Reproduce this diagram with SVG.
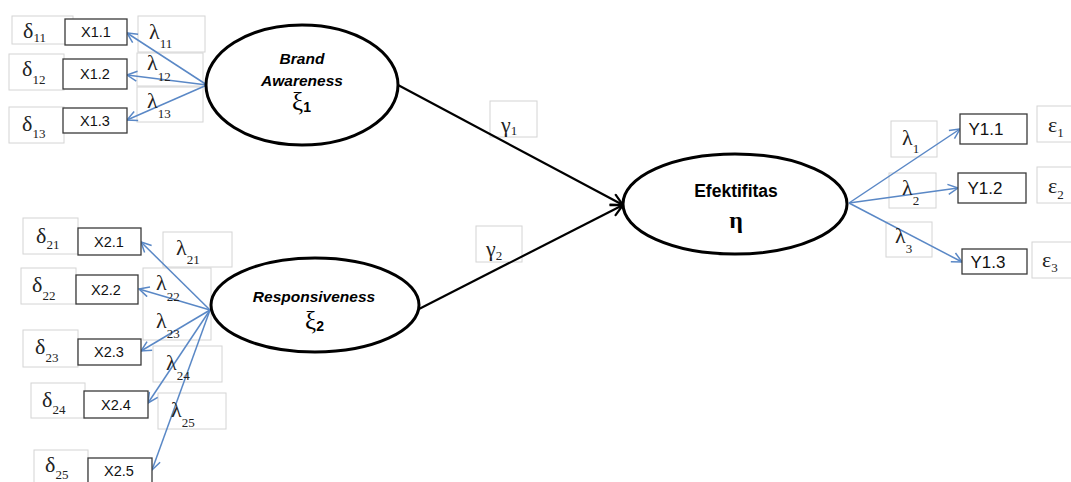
<svg xmlns="http://www.w3.org/2000/svg" width="1071" height="482" viewBox="0 0 1071 482">
<style>
.lb{fill:#fff;stroke:#d4d4d4;stroke-width:1}
.ind{fill:#fff;stroke:#3a3a3a;stroke-width:1.3}
.lat{fill:#fff;stroke:#000;stroke-width:3}
.gk{font-family:"Liberation Serif","DejaVu Serif",serif;font-size:22px;fill:#222}
.sub{font-size:13px}
.it{font-family:"Liberation Sans","DejaVu Sans",sans-serif;font-size:14.5px;fill:#111;text-anchor:middle}
.yt{font-size:17px}
.ln{font-family:"Liberation Sans","DejaVu Sans",sans-serif;font-size:15.5px;font-weight:bold;fill:#000;text-anchor:middle}
.big{font-size:17.5px}
.bl{stroke:#5a88c6;stroke-width:1.5;fill:none;marker-end:url(#ab)}
.bk{stroke:#000;stroke-width:2.2;fill:none;marker-end:url(#ak)}
</style>
<defs>
<marker id="ab" viewBox="0 0 12 12" refX="11" refY="6" markerWidth="12" markerHeight="12" markerUnits="userSpaceOnUse" orient="auto">
<path d="M1,1 L11,6 L1,11" fill="none" stroke="#5a88c6" stroke-width="1.5"/>
</marker>
<marker id="ak" viewBox="0 0 14 14" refX="13" refY="7" markerWidth="14" markerHeight="14" markerUnits="userSpaceOnUse" orient="auto">
<path d="M1,1 L13,7 L1,13" fill="none" stroke="#000" stroke-width="2.2"/>
</marker>
</defs>
<rect width="1071" height="482" fill="#fff"/>

<g id="labels">
<rect class="lb" x="138" y="16" width="67" height="36"/>
<rect class="lb" x="137" y="53" width="66" height="33"/>
<rect class="lb" x="137" y="87" width="66" height="35"/>
<rect class="lb" x="12" y="16" width="61" height="28"/>
<rect class="lb" x="9" y="54" width="55" height="36"/>
<rect class="lb" x="9" y="107" width="55" height="36"/>
<rect class="lb" x="163" y="232" width="69" height="35"/>
<rect class="lb" x="143" y="268" width="68" height="72"/>
<rect class="lb" x="153" y="346" width="69" height="36"/>
<rect class="lb" x="158" y="393" width="68" height="36"/>
<rect class="lb" x="23" y="218" width="55" height="36"/>
<rect class="lb" x="21" y="268" width="55" height="36"/>
<rect class="lb" x="23" y="330" width="55" height="37"/>
<rect class="lb" x="31" y="383" width="54" height="35"/>
<rect class="lb" x="34" y="450" width="54" height="40"/>
<rect class="lb" x="490" y="101" width="47" height="36"/>
<rect class="lb" x="476" y="226" width="46" height="36"/>
<rect class="lb" x="891" y="121" width="46" height="36"/>
<rect class="lb" x="889" y="173" width="47" height="35"/>
<rect class="lb" x="886" y="222" width="46" height="35"/>
<rect class="lb" x="1037" y="106" width="40" height="36"/>
<rect class="lb" x="1037" y="167" width="40" height="36"/>
<rect class="lb" x="1032" y="242" width="45" height="36"/>
</g>

<g id="connectors">
<line class="bl" x1="207" y1="85" x2="127" y2="33"/>
<line class="bl" x1="207" y1="85" x2="127" y2="75"/>
<line class="bl" x1="207" y1="85" x2="127" y2="120"/>
<line class="bl" x1="210" y1="310" x2="141" y2="242"/>
<line class="bl" x1="210" y1="310" x2="139" y2="289"/>
<line class="bl" x1="210" y1="310" x2="141" y2="351"/>
<line class="bl" x1="210" y1="310" x2="148" y2="403"/>
<line class="bl" x1="210" y1="310" x2="152" y2="470"/>
<line class="bl" x1="849" y1="203" x2="960" y2="129"/>
<line class="bl" x1="849" y1="203" x2="958" y2="188"/>
<line class="bl" x1="849" y1="203" x2="962" y2="262"/>
<line class="bk" x1="398" y1="85" x2="623" y2="205"/>
<line class="bk" x1="419" y1="309" x2="623" y2="205"/>
</g>

<g id="label-text" class="gk">
<text x="149" y="39">λ<tspan class="sub" dy="9">11</tspan></text>
<text x="147" y="70">λ<tspan class="sub" dy="11">12</tspan></text>
<text x="147" y="108">λ<tspan class="sub" dy="10">13</tspan></text>
<text x="23" y="38">δ<tspan class="sub" dy="4">11</tspan></text>
<text x="22" y="76">δ<tspan class="sub" dy="8">12</tspan></text>
<text x="22" y="131">δ<tspan class="sub" dy="7">13</tspan></text>
<text x="176" y="255">λ<tspan class="sub" dy="9">21</tspan></text>
<text x="156" y="290">λ<tspan class="sub" dy="11">22</tspan></text>
<text x="156" y="328">λ<tspan class="sub" dy="10">23</tspan></text>
<text x="166" y="370">λ<tspan class="sub" dy="10">24</tspan></text>
<text x="171" y="417">λ<tspan class="sub" dy="10">25</tspan></text>
<text x="36" y="243">δ<tspan class="sub" dy="6">21</tspan></text>
<text x="32" y="292">δ<tspan class="sub" dy="8">22</tspan></text>
<text x="35" y="354">δ<tspan class="sub" dy="8">23</tspan></text>
<text x="42" y="407">δ<tspan class="sub" dy="7">24</tspan></text>
<text x="45" y="472">δ<tspan class="sub" dy="7">25</tspan></text>
<text x="501" y="132">γ<tspan class="sub" dy="3">1</tspan></text>
<text x="486" y="256">γ<tspan class="sub" dy="4">2</tspan></text>
<text x="902" y="145">λ<tspan class="sub" dy="8">1</tspan></text>
<text x="902" y="195">λ<tspan class="sub" dy="10">2</tspan></text>
<text x="895" y="243">λ<tspan class="sub" dy="10">3</tspan></text>
<text x="1048" y="132">ε<tspan class="sub" dy="5">1</tspan></text>
<text x="1048" y="193">ε<tspan class="sub" dy="6">2</tspan></text>
<text x="1042" y="267">ε<tspan class="sub" dy="5">3</tspan></text>
</g>

<g id="X1.1"><rect class="ind" x="65" y="19" width="62" height="26"/><text class="it" x="96" y="37">X1.1</text></g>
<g id="X1.2"><rect class="ind" x="63" y="59" width="64" height="30"/><text class="it" x="95" y="79">X1.2</text></g>
<g id="X1.3"><rect class="ind" x="63" y="108" width="64" height="25"/><text class="it" x="95" y="126">X1.3</text></g>
<g id="X2.1"><rect class="ind" x="78" y="228" width="63" height="27"/><text class="it" x="109" y="247">X2.1</text></g>
<g id="X2.2"><rect class="ind" x="76" y="275" width="62" height="29"/><text class="it" x="106" y="295">X2.2</text></g>
<g id="X2.3"><rect class="ind" x="78" y="339" width="63" height="26"/><text class="it" x="109" y="357">X2.3</text></g>
<g id="X2.4"><rect class="ind" x="84" y="391" width="64" height="27"/><text class="it" x="116" y="410">X2.4</text></g>
<g id="X2.5"><rect class="ind" x="88" y="458" width="64" height="30"/><text class="it" x="119" y="476">X2.5</text></g>
<g id="Y1.1"><rect class="ind" x="960" y="114" width="67" height="30"/><text class="it yt" x="986" y="135">Y1.1</text></g>
<g id="Y1.2"><rect class="ind" x="958" y="173" width="68" height="30"/><text class="it yt" x="985" y="194">Y1.2</text></g>
<g id="Y1.3"><rect class="ind" x="962" y="249" width="65" height="25"/><text class="it yt" x="988" y="268">Y1.3</text></g>

<g id="brand-awareness">
<ellipse class="lat" cx="302" cy="85" rx="96" ry="60"/>
<text class="ln" x="302" y="64" font-style="italic">Brand</text>
<text class="ln" x="302" y="86" font-style="italic">Awareness</text>
<text x="292" y="110" font-family="Liberation Serif,serif" font-size="25" fill="#000">ξ<tspan font-family="Liberation Sans,sans-serif" font-weight="bold" font-size="14" dy="2">1</tspan></text>
</g>
<g id="responsiveness">
<ellipse class="lat" cx="315" cy="305" rx="104" ry="47"/>
<text class="ln" x="314" y="302" font-style="italic">Responsiveness</text>
<text x="305" y="329" font-family="Liberation Serif,serif" font-size="25" fill="#000">ξ<tspan font-family="Liberation Sans,sans-serif" font-weight="bold" font-size="14" dy="2">2</tspan></text>
</g>
<g id="efektifitas">
<ellipse class="lat" cx="735" cy="204" rx="112" ry="50"/>
<text class="ln big" x="736" y="197">Efektifitas</text>
<text x="736" y="228" font-family="Liberation Serif,serif" font-size="24" font-weight="bold" fill="#000" text-anchor="middle">η</text>
</g>
</svg>
